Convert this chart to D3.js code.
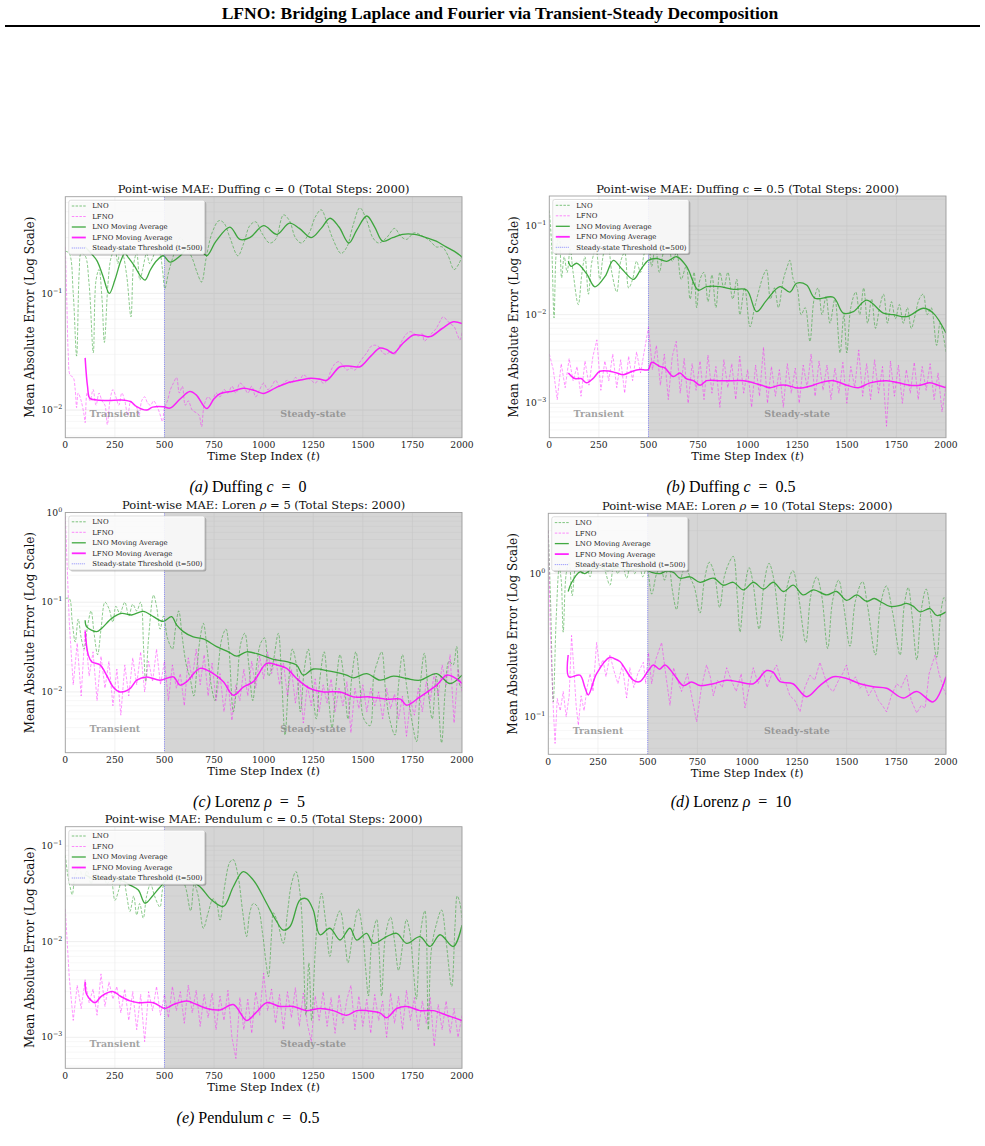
<!DOCTYPE html>
<html><head><meta charset="utf-8">
<script src="https://cdn.jsdelivr.net/npm/d3@7"></script>
<style>body{margin:0;background:#fff}svg{display:block}</style>
</head><body>
<svg id="fig" width="985" height="1146"></svg>
<script>
// ---------------- DATA ----------------
const STEP = 20; // sampling interval of the uniformly sampled noisy series
const xTicks = [0,250,500,750,1000,1250,1500,1750,2000];
const legendLabels = ["LNO","LFNO","LNO Moving Average","LFNO Moving Average","Steady-state Threshold (t=500)"];

// (a) Duffing c = 0
const duffing0_LNO = [[0,0.23],[20,0.22],[40,0.10],[57,0.029],[70,0.15],[80,0.22],[100,0.21],[120,0.12],[141,0.031],[155,0.13],[170,0.16],[185,0.09],[197,0.038],[215,0.12],[230,0.20],[250,0.24],[265,0.18],[276,0.25],[290,0.22],[310,0.14],[331,0.063],[345,0.18],[360,0.22],[376,0.13],[390,0.16],[410,0.22],[425,0.18],[440,0.20],[460,0.24],[477,0.22],[490,0.16],[502,0.11],[520,0.15],[545,0.21],[580,0.30],[610,0.25],[640,0.20],[665,0.15],[687,0.125],[710,0.20],[740,0.33],[775,0.42],[800,0.40],[830,0.30],[870,0.21],[900,0.27],[930,0.38],[960,0.41],[990,0.33],[1030,0.27],[1060,0.29],[1100,0.47],[1130,0.42],[1160,0.30],[1190,0.27],[1230,0.33],[1260,0.45],[1290,0.52],[1320,0.40],[1350,0.29],[1390,0.22],[1420,0.25],[1450,0.38],[1485,0.54],[1520,0.42],[1550,0.30],[1580,0.27],[1620,0.30],[1660,0.36],[1690,0.31],[1720,0.29],[1760,0.33],[1800,0.31],[1840,0.28],[1870,0.25],[1900,0.25],[1930,0.21],[1960,0.16],[1985,0.18],[2000,0.21]];
const duffing0_LNO_MA = [[100,0.25],[130,0.22],[160,0.19],[190,0.14],[222,0.10],[250,0.13],[280,0.19],[300,0.22],[320,0.20],[350,0.17],[380,0.14],[402,0.13],[430,0.16],[460,0.19],[494,0.21],[528,0.185],[580,0.21],[630,0.26],[680,0.24],[713,0.21],[760,0.28],[830,0.37],[880,0.29],[930,0.30],[1000,0.38],[1066,0.32],[1130,0.40],[1180,0.36],[1240,0.30],[1290,0.36],[1335,0.44],[1380,0.37],[1430,0.27],[1470,0.35],[1520,0.46],[1560,0.37],[1600,0.28],[1650,0.30],[1700,0.32],[1760,0.32],[1820,0.30],[1870,0.28],[1920,0.25],[1960,0.23],[2000,0.205]];
const duffing0_LFNO = [[0,0.25],[8,0.08],[15,0.03],[24,0.02],[40,0.019],[50,0.015],[57,0.0105],[65,0.014],[80,0.012],[95,0.009],[100,0.0078],[110,0.014],[125,0.012],[140,0.015],[155,0.011],[170,0.014],[185,0.012],[200,0.011],[212,0.0075],[225,0.012],[240,0.015],[255,0.013],[270,0.011],[285,0.014],[300,0.012],[315,0.009],[330,0.012],[345,0.011],[360,0.0105],[372,0.009],[385,0.012],[400,0.013],[415,0.0115],[430,0.011],[445,0.012],[460,0.011],[475,0.0095],[490,0.008],[500,0.0105],[515,0.012],[530,0.015],[545,0.017],[561,0.019],[575,0.014],[590,0.016],[605,0.011],[620,0.012],[640,0.010],[660,0.0095],[675,0.009],[687,0.0072],[700,0.011],[720,0.013],[740,0.012],[760,0.014],[780,0.013],[800,0.015],[820,0.014],[840,0.016],[860,0.014],[880,0.017],[900,0.016],[920,0.014],[940,0.016],[960,0.013],[980,0.015],[1000,0.017],[1020,0.015],[1040,0.016],[1060,0.018],[1080,0.016],[1100,0.017],[1120,0.018],[1140,0.017],[1160,0.019],[1180,0.018],[1200,0.020],[1220,0.019],[1240,0.018],[1260,0.017],[1280,0.0185],[1300,0.017],[1320,0.018],[1340,0.022],[1360,0.025],[1380,0.026],[1400,0.024],[1420,0.022],[1440,0.023],[1460,0.022],[1480,0.025],[1500,0.028],[1520,0.031],[1540,0.035],[1560,0.036],[1580,0.035],[1600,0.031],[1620,0.030],[1640,0.032],[1660,0.030],[1680,0.034],[1700,0.040],[1720,0.045],[1740,0.047],[1760,0.045],[1780,0.043],[1800,0.045],[1810,0.039],[1830,0.042],[1850,0.046],[1870,0.050],[1890,0.058],[1905,0.063],[1920,0.060],[1940,0.055],[1960,0.052],[1975,0.045],[1990,0.040],[2000,0.046]];
const duffing0_LFNO_MA = [[100,0.028],[112,0.016],[124,0.0126],[160,0.0122],[220,0.0121],[280,0.0122],[330,0.0118],[360,0.0107],[410,0.0100],[440,0.0106],[494,0.0107],[528,0.0104],[580,0.0125],[628,0.0144],[660,0.0135],[713,0.0103],[750,0.0125],[780,0.0138],[847,0.0146],[897,0.0154],[950,0.0148],[998,0.0139],[1060,0.0155],[1116,0.017],[1180,0.018],[1234,0.0187],[1280,0.0185],[1318,0.018],[1385,0.0235],[1440,0.0238],[1486,0.0235],[1540,0.029],[1586,0.034],[1620,0.033],[1654,0.0306],[1700,0.037],[1755,0.044],[1800,0.0435],[1839,0.0426],[1900,0.050],[1956,0.057],[2000,0.055]];

// (b) Duffing c = 0.5
const duffing05_LNO = [[0,0.15],[12,0.06],[24,0.0092],[35,0.05],[50,0.08],[62,0.026],[75,0.045],[90,0.03],[105,0.055],[120,0.03],[146,0.013],[165,0.03],[180,0.045],[197,0.017],[215,0.04],[235,0.055],[255,0.025],[275,0.05],[295,0.06],[315,0.03],[340,0.018],[360,0.04],[380,0.05],[400,0.02],[420,0.025],[440,0.04],[460,0.03],[480,0.05],[500,0.06],[516,0.035],[535,0.06],[555,0.03],[575,0.05],[600,0.065],[620,0.04],[642,0.05],[665,0.025],[690,0.035],[710,0.015],[730,0.03],[743,0.012],[760,0.025],[780,0.03],[800,0.014],[820,0.028],[840,0.012],[860,0.03],[880,0.02],[900,0.03],[925,0.015],[945,0.025],[961,0.01],[985,0.02],[1012,0.0073],[1035,0.012],[1060,0.02],[1080,0.028],[1095,0.032],[1115,0.015],[1135,0.02],[1155,0.012],[1180,0.025],[1200,0.035],[1213,0.041],[1230,0.025],[1250,0.02],[1270,0.01],[1290,0.012],[1314,0.005],[1335,0.015],[1355,0.02],[1375,0.01],[1395,0.016],[1415,0.008],[1440,0.015],[1466,0.0037],[1485,0.01],[1500,0.0037],[1520,0.012],[1545,0.018],[1565,0.01],[1585,0.02],[1605,0.008],[1625,0.015],[1645,0.007],[1665,0.012],[1685,0.017],[1705,0.008],[1725,0.014],[1745,0.009],[1765,0.013],[1785,0.008],[1805,0.012],[1825,0.007],[1845,0.01],[1865,0.015],[1885,0.017],[1905,0.01],[1925,0.012],[1953,0.0045],[1970,0.008],[1985,0.006],[2000,0.0038]];
const duffing05_LNO_MA = [[96,0.040],[110,0.035],[138,0.038],[188,0.029],[230,0.0206],[281,0.027],[323,0.041],[365,0.033],[424,0.025],[460,0.032],[499,0.041],[541,0.043],[592,0.040],[642,0.045],[692,0.035],[751,0.0189],[793,0.0207],[861,0.0207],[928,0.0193],[995,0.019],[1045,0.0108],[1096,0.0146],[1163,0.0207],[1213,0.018],[1247,0.0226],[1297,0.0216],[1340,0.0153],[1432,0.0157],[1482,0.0104],[1533,0.0108],[1600,0.0146],[1684,0.0104],[1734,0.0100],[1802,0.0095],[1886,0.0118],[1936,0.0104],[2000,0.0062]];
const duffing05_LFNO = [0.0036,0.0024,0.0011,0.0028,0.0015,0.0032,0.0018,0.0026,0.0012,0.0030,0.0016,0.0034,0.0052,0.0014,0.0030,0.0018,0.0036,0.0015,0.0031,0.0013,0.0034,0.0018,0.0038,0.0022,0.0040,0.0072,0.0024,0.0045,0.0016,0.0036,0.0011,0.0034,0.0050,0.0013,0.0032,0.0010,0.0028,0.0014,0.0030,0.0011,0.0035,0.0013,0.0026,0.0009,0.0031,0.0015,0.0028,0.0011,0.0034,0.0013,0.0024,0.0009,0.0027,0.0012,0.0043,0.0010,0.0026,0.0012,0.0024,0.0009,0.0028,0.0013,0.0025,0.0010,0.0027,0.0015,0.0036,0.0012,0.0030,0.0014,0.0027,0.0011,0.0025,0.0013,0.0029,0.0010,0.0026,0.0015,0.0040,0.0012,0.0028,0.0011,0.0031,0.0013,0.0026,0.00055,0.0030,0.0012,0.0027,0.0010,0.0024,0.0013,0.0029,0.0011,0.0026,0.0014,0.0028,0.0011,0.0022,0.0008,0.0016];
const duffing05_LFNO_MA = [[96,0.0022],[129,0.0019],[160,0.0019],[188,0.0017],[220,0.0019],[255,0.0023],[306,0.0023],[340,0.0022],[373,0.0021],[420,0.0023],[457,0.0024],[499,0.0024],[516,0.0029],[558,0.0026],[583,0.0025],[625,0.0020],[659,0.0022],[690,0.0019],[726,0.0018],[760,0.0016],[793,0.0018],[860,0.0018],[928,0.0018],[980,0.0018],[1029,0.0017],[1070,0.0016],[1113,0.0015],[1160,0.0016],[1197,0.0016],[1240,0.0015],[1281,0.0015],[1330,0.0016],[1365,0.0017],[1432,0.0018],[1500,0.0016],[1558,0.0015],[1617,0.0017],[1701,0.0018],[1760,0.0017],[1818,0.0016],[1870,0.0016],[1919,0.0017],[1960,0.0016],[2000,0.0015]];

// (c) Lorenz rho = 5
const lorenz5_LNO = [[0,0.11],[20,0.11],[35,0.06],[50,0.036],[65,0.065],[80,0.04],[95,0.03],[110,0.05],[130,0.08],[145,0.045],[163,0.026],[180,0.05],[200,0.1],[220,0.085],[240,0.06],[255,0.09],[275,0.075],[300,0.1],[320,0.07],[340,0.095],[360,0.08],[380,0.1],[395,0.03],[405,0.013],[420,0.04],[445,0.12],[460,0.09],[478,0.05],[495,0.07],[515,0.04],[540,0.03],[555,0.05],[572,0.08],[590,0.04],[610,0.02],[630,0.014],[648,0.009],[665,0.02],[680,0.04],[696,0.058],[715,0.03],[735,0.012],[755,0.008],[772,0.02],[790,0.04],[810,0.05],[825,0.03],[847,0.006],[865,0.012],[885,0.035],[905,0.045],[925,0.02],[945,0.008],[965,0.02],[985,0.035],[1005,0.04],[1025,0.015],[1045,0.02],[1074,0.045],[1090,0.015],[1108,0.0033],[1125,0.012],[1145,0.03],[1165,0.02],[1185,0.006],[1205,0.018],[1225,0.03],[1245,0.012],[1265,0.005],[1285,0.015],[1305,0.028],[1325,0.01],[1345,0.004],[1365,0.012],[1385,0.026],[1405,0.014],[1425,0.005],[1445,0.015],[1465,0.028],[1485,0.012],[1505,0.005],[1536,0.0042],[1555,0.015],[1575,0.022],[1595,0.028],[1615,0.01],[1635,0.005],[1662,0.0033],[1680,0.012],[1700,0.026],[1720,0.012],[1740,0.006],[1771,0.0028],[1790,0.012],[1810,0.027],[1830,0.01],[1850,0.005],[1870,0.015],[1897,0.0027],[1915,0.01],[1935,0.022],[1955,0.02],[1973,0.032],[1988,0.012],[2000,0.011]];
const lorenz5_LNO_MA = [[100,0.063],[108,0.053],[158,0.047],[183,0.051],[234,0.066],[284,0.075],[334,0.072],[393,0.079],[444,0.069],[494,0.061],[536,0.069],[561,0.056],[595,0.047],[645,0.041],[696,0.039],[763,0.032],[822,0.028],[864,0.025],[914,0.028],[981,0.026],[1049,0.023],[1116,0.0217],[1166,0.020],[1200,0.0154],[1250,0.018],[1334,0.017],[1418,0.0154],[1452,0.0143],[1519,0.016],[1587,0.0135],[1654,0.015],[1721,0.0141],[1788,0.0135],[1872,0.016],[1939,0.0124],[2000,0.0154]];
const lorenz5_LFNO = [0.9,0.06,0.012,0.035,0.009,0.05,0.015,0.028,0.008,0.025,0.011,0.022,0.007,0.018,0.0055,0.02,0.009,0.024,0.012,0.028,0.010,0.022,0.013,0.03,0.012,0.022,0.008,0.02,0.011,0.016,0.007,0.024,0.014,0.03,0.012,0.026,0.009,0.021,0.008,0.016,0.006,0.013,0.0048,0.012,0.008,0.018,0.009,0.022,0.011,0.025,0.014,0.028,0.016,0.024,0.012,0.021,0.009,0.018,0.0075,0.015,0.0045,0.012,0.007,0.014,0.006,0.012,0.0075,0.014,0.006,0.011,0.007,0.013,0.0035,0.011,0.0065,0.012,0.006,0.011,0.007,0.010,0.005,0.011,0.0065,0.0095,0.005,0.009,0.0032,0.008,0.0055,0.011,0.006,0.013,0.008,0.016,0.009,0.02,0.012,0.026,0.0045,0.018,0.01];
const lorenz5_LFNO_MA = [[100,0.047],[116,0.0257],[133,0.0217],[175,0.020],[208,0.0154],[242,0.0113],[276,0.010],[326,0.0109],[360,0.0135],[410,0.0147],[477,0.0135],[545,0.0147],[578,0.0119],[612,0.013],[679,0.0183],[746,0.016],[797,0.013],[847,0.0092],[897,0.0113],[948,0.013],[1015,0.0208],[1066,0.020],[1116,0.0183],[1166,0.0141],[1234,0.0109],[1301,0.010],[1385,0.010],[1452,0.0088],[1536,0.0088],[1620,0.0083],[1690,0.0083],[1721,0.0071],[1788,0.0088],[1872,0.0119],[1923,0.0154],[1956,0.0147],[2000,0.0124]];

// (d) Lorenz rho = 10
const lorenz10_LNO = [[0,2.0],[12,0.6],[25,0.127],[40,0.5],[55,1.1],[65,0.9],[75,0.39],[90,1.0],[105,1.2],[120,0.7],[135,1.1],[150,1.3],[170,1.0],[190,1.2],[210,0.95],[230,1.25],[250,1.05],[270,1.3],[290,1.0],[310,0.83],[330,1.15],[350,1.0],[370,1.2],[394,0.93],[415,1.2],[435,1.0],[455,1.25],[475,0.95],[495,1.1],[520,0.72],[545,1.0],[565,1.1],[585,0.9],[605,1.15],[625,0.75],[645,0.56],[665,0.9],[690,1.12],[712,0.95],[735,0.8],[763,0.53],[785,0.9],[810,1.2],[835,1.0],[862,0.58],[885,0.95],[910,1.2],[930,1.32],[950,0.7],[964,0.39],[985,0.75],[1010,1.1],[1030,0.85],[1060,0.41],[1085,0.85],[1110,1.18],[1135,0.9],[1173,0.34],[1200,0.8],[1230,1.05],[1255,0.75],[1295,0.33],[1320,0.7],[1350,0.95],[1375,0.7],[1405,0.30],[1430,0.65],[1460,0.9],[1485,0.6],[1517,0.31],[1545,0.65],[1580,0.88],[1605,0.6],[1645,0.27],[1670,0.6],[1700,0.82],[1730,0.55],[1769,0.27],[1790,0.6],[1810,0.8],[1830,0.5],[1853,0.25],[1875,0.55],[1900,0.78],[1925,0.5],[1953,0.26],[1975,0.55],[1990,0.68],[2000,0.64]];
const lorenz10_LNO_MA = [[100,0.75],[116,0.86],[159,1.03],[184,1.0],[220,1.08],[260,1.1],[300,1.05],[350,1.1],[400,1.05],[450,1.08],[500,1.05],[520,1.02],[562,1.0],[595,1.04],[629,1.02],[662,0.93],[713,0.95],[763,0.87],[830,0.93],[880,0.83],[930,0.87],[981,0.77],[1031,0.87],[1082,0.78],[1132,0.87],[1182,0.75],[1232,0.83],[1282,0.71],[1333,0.77],[1400,0.71],[1450,0.75],[1500,0.65],[1551,0.71],[1601,0.64],[1640,0.67],[1668,0.64],[1718,0.59],[1769,0.60],[1800,0.62],[1836,0.59],[1869,0.54],[1920,0.57],[1953,0.51],[2000,0.54]];
const lorenz10_LFNO = [[0,2.0],[10,0.4],[25,0.115],[34,0.065],[45,0.134],[60,0.11],[75,0.15],[90,0.1],[105,0.14],[117,0.37],[130,0.2],[140,0.12],[151,0.087],[165,0.14],[180,0.11],[195,0.16],[210,0.2],[225,0.15],[243,0.33],[258,0.22],[275,0.25],[290,0.19],[310,0.27],[330,0.21],[350,0.17],[372,0.23],[394,0.135],[410,0.22],[430,0.16],[450,0.2],[478,0.24],[490,0.17],[503,0.28],[520,0.17],[540,0.25],[570,0.33],[590,0.2],[612,0.12],[630,0.22],[650,0.18],[670,0.15],[700,0.2],[725,0.13],[746,0.092],[770,0.16],[796,0.23],[815,0.19],[830,0.14],[850,0.18],[875,0.16],[897,0.22],[920,0.18],[945,0.15],[970,0.2],[989,0.115],[1010,0.16],[1031,0.22],[1055,0.17],[1080,0.21],[1100,0.16],[1125,0.2],[1148,0.23],[1170,0.18],[1195,0.17],[1215,0.14],[1240,0.13],[1266,0.108],[1290,0.16],[1316,0.195],[1340,0.18],[1366,0.24],[1390,0.19],[1410,0.16],[1433,0.15],[1460,0.18],[1480,0.2],[1500,0.23],[1520,0.17],[1545,0.19],[1567,0.158],[1590,0.17],[1610,0.14],[1635,0.16],[1660,0.13],[1680,0.12],[1701,0.108],[1725,0.14],[1752,0.17],[1775,0.16],[1802,0.195],[1825,0.13],[1853,0.106],[1875,0.12],[1895,0.115],[1915,0.2],[1945,0.27],[1965,0.2],[1987,0.158],[2000,0.142]];
const lorenz10_LFNO_MA = [[100,0.27],[104,0.19],[159,0.195],[184,0.16],[201,0.142],[243,0.20],[310,0.26],[330,0.255],[360,0.243],[427,0.18],[461,0.176],[503,0.21],[528,0.23],[560,0.215],[587,0.23],[629,0.20],[679,0.165],[720,0.175],[763,0.165],[830,0.17],[897,0.18],[960,0.175],[1031,0.17],[1098,0.21],[1130,0.205],[1165,0.176],[1230,0.17],[1299,0.138],[1366,0.165],[1433,0.19],[1500,0.185],[1567,0.17],[1634,0.162],[1701,0.158],[1785,0.135],[1853,0.15],[1936,0.127],[2000,0.19]];

// (e) Pendulum c = 0.5
const pendulum_LNO = [[0,0.08],[12,0.05],[24,0.0375],[35,0.031],[50,0.05],[70,0.06],[90,0.045],[110,0.055],[130,0.04],[150,0.06],[170,0.045],[190,0.05],[210,0.04],[230,0.045],[250,0.027],[270,0.035],[290,0.05],[310,0.03],[326,0.0207],[345,0.03],[360,0.019],[375,0.025],[393,0.0176],[410,0.03],[430,0.04],[450,0.03],[477,0.023],[490,0.035],[510,0.05],[540,0.06],[570,0.045],[600,0.04],[632,0.021],[650,0.04],[670,0.03],[696,0.0138],[720,0.02],[745,0.028],[763,0.025],[780,0.0168],[805,0.04],[830,0.068],[847,0.072],[870,0.05],[895,0.02],[914,0.0113],[930,0.02],[948,0.025],[970,0.023],[995,0.012],[1012,0.006],[1024,0.0043],[1040,0.012],[1049,0.02],[1070,0.016],[1099,0.0096],[1120,0.02],[1140,0.04],[1163,0.054],[1185,0.03],[1200,0.008],[1213,0.0017],[1228,0.006],[1242,0.0015],[1260,0.008],[1275,0.02],[1292,0.032],[1310,0.018],[1334,0.007],[1355,0.014],[1385,0.021],[1410,0.01],[1425,0.006],[1450,0.012],[1477,0.022],[1500,0.012],[1515,0.005],[1528,0.0027],[1545,0.01],[1570,0.017],[1582,0.008],[1595,0.0027],[1615,0.012],[1640,0.018],[1660,0.01],[1680,0.005],[1700,0.009],[1720,0.017],[1738,0.0122],[1755,0.005],[1770,0.0025],[1790,0.012],[1813,0.021],[1830,0.0012],[1845,0.008],[1870,0.015],[1897,0.0214],[1920,0.01],[1948,0.0034],[1965,0.015],[1976,0.03],[1990,0.025],[2000,0.0168]];
const pendulum_LNO_MA = [[100,0.05],[150,0.045],[200,0.048],[250,0.045],[300,0.042],[326,0.039],[368,0.0347],[402,0.0252],[440,0.03],[477,0.037],[520,0.045],[580,0.046],[640,0.042],[679,0.0375],[738,0.0272],[797,0.0233],[847,0.0375],[897,0.054],[948,0.044],[1015,0.0252],[1060,0.017],[1099,0.0132],[1133,0.0144],[1183,0.0272],[1217,0.028],[1250,0.0214],[1284,0.0118],[1334,0.0138],[1385,0.0104],[1435,0.0138],[1469,0.0104],[1519,0.0122],[1553,0.0096],[1620,0.0113],[1671,0.0122],[1721,0.0096],[1788,0.0113],[1839,0.0089],[1889,0.0118],[1956,0.0089],[2000,0.0149]];
const pendulum_LFNO = [0.022,0.0042,0.0015,0.0035,0.0020,0.0040,0.0023,0.0032,0.0017,0.0046,0.0021,0.0038,0.0025,0.0034,0.0018,0.0032,0.0015,0.0030,0.0012,0.0028,0.0009,0.0030,0.0019,0.0034,0.0017,0.0028,0.0016,0.0034,0.0019,0.0030,0.0014,0.0035,0.0018,0.0031,0.0013,0.0028,0.0016,0.0029,0.0012,0.0027,0.0015,0.0031,0.0010,0.0006,0.0026,0.0012,0.0025,0.0011,0.0030,0.0017,0.0047,0.0019,0.0032,0.0014,0.0028,0.0012,0.0030,0.0016,0.0033,0.0013,0.0029,0.0014,0.0009,0.0027,0.0015,0.0030,0.0013,0.0026,0.0011,0.0028,0.0014,0.0025,0.0035,0.0012,0.0027,0.0013,0.0025,0.0011,0.0028,0.0015,0.0024,0.0010,0.0029,0.0014,0.0027,0.0012,0.0031,0.0015,0.0026,0.0012,0.0024,0.0014,0.0026,0.0008,0.0022,0.0012,0.0024,0.0011,0.0020,0.0010,0.0017];
const pendulum_LFNO_MA = [[100,0.0038],[108,0.0028],[150,0.0023],[183,0.0027],[242,0.0030],[276,0.0027],[326,0.0024],[368,0.0023],[444,0.0023],[502,0.0020],[545,0.0022],[612,0.0024],[662,0.0022],[713,0.0020],[780,0.00193],[847,0.0022],[914,0.0015],[960,0.0018],[1015,0.0023],[1082,0.0021],[1150,0.0021],[1217,0.0019],[1284,0.0020],[1351,0.0019],[1418,0.0017],[1469,0.0019],[1519,0.0019],[1586,0.0018],[1620,0.0016],[1671,0.0020],[1721,0.0021],[1788,0.0019],[1855,0.0019],[1923,0.0017],[2000,0.0015]];

// ---------------- LAYOUT ----------------
const uniform = arr => arr.map((v,i)=>[i*STEP, v]);
const EQ = "\u2002=\u2002";
const panels = [
  {id:"a", lno:duffing0_LNO, lfno:duffing0_LFNO, lnoMA:duffing0_LNO_MA, lfnoMA:duffing0_LFNO_MA,
   yDomain:[0.0058,0.673], x0:65.3, x1:462, y0:196.7, y1:437.7,
   title:[["Point-wise MAE: Duffing c = 0 (Total Steps: 2000)",false]],
   caption:[["(a)",true],[" Duffing ",false],["c",true],[EQ+"0",false]], capX:248, capY:492},
  {id:"b", lno:duffing05_LNO, lfno:uniform(duffing05_LFNO), lnoMA:duffing05_LNO_MA, lfnoMA:duffing05_LFNO_MA,
   yDomain:[0.000409,0.218], x0:549.3, x1:946, y0:196, y1:437.7,
   title:[["Point-wise MAE: Duffing c = 0.5 (Total Steps: 2000)",false]],
   caption:[["(b)",true],[" Duffing ",false],["c",true],[EQ+"0.5",false]], capX:731, capY:492},
  {id:"c", lno:lorenz5_LNO, lfno:uniform(lorenz5_LFNO), lnoMA:lorenz5_LNO_MA, lfnoMA:lorenz5_LFNO_MA,
   yDomain:[0.0021,1.0], x0:65.3, x1:462, y0:512.5, y1:752.7,
   title:[["Point-wise MAE: Loren ",false],["ρ",true],[" = 5 (Total Steps: 2000)",false]],
   caption:[["(c)",true],[" Lorenz ",false],["ρ",true],[EQ+"5",false]], capX:249, capY:807},
  {id:"d", lno:lorenz10_LNO, lfno:lorenz10_LFNO, lnoMA:lorenz10_LNO_MA, lfnoMA:lorenz10_LFNO_MA,
   yDomain:[0.0546,2.64], x0:548.3, x1:946, y0:513.3, y1:754.3,
   title:[["Point-wise MAE: Loren ",false],["ρ",true],[" = 10 (Total Steps: 2000)",false]],
   caption:[["(d)",true],[" Lorenz ",false],["ρ",true],[EQ+"10",false]], capX:731, capY:807},
  {id:"e", lno:pendulum_LNO, lfno:uniform(pendulum_LFNO), lnoMA:pendulum_LNO_MA, lfnoMA:pendulum_LFNO_MA,
   yDomain:[0.000474,0.159], x0:65.3, x1:462, y0:826.7, y1:1068.3,
   title:[["Point-wise MAE: Pendulum c = 0.5 (Total Steps: 2000)",false]],
   caption:[["(e)",true],[" Pendulum ",false],["c",true],[EQ+"0.5",false]], capX:248, capY:1123}
];

const SERIF = "'DejaVu Serif', serif";
const TIMES = "'Liberation Serif', 'Times New Roman', serif";
const GREEN = "#2ca02c", MAG = "#ff00ff", THR = "#5a5aff";

const svg = d3.select("#fig");
const defs = svg.append("defs");

// header
svg.append("text").attr("x",500).attr("y",19).attr("text-anchor","middle")
  .attr("font-family",TIMES).attr("font-weight","bold").attr("font-size",17.5)
  .text("LFNO: Bridging Laplace and Fourier via Transient-Steady Decomposition");
svg.append("line").attr("x1",5).attr("x2",980).attr("y1",26).attr("y2",26)
  .attr("stroke","#000").attr("stroke-width",1.8);

function segText(g, segs, attrs){
  const t = g.append("text");
  Object.entries(attrs).forEach(([k,v])=>t.attr(k,v));
  segs.forEach(([s,it])=>{ const sp=t.append("tspan").text(s); if(it) sp.attr("font-style","italic"); });
  return t;
}

panels.forEach(p=>{
  const g = svg.append("g");
  const x = d3.scaleLinear().domain([0,2000]).range([p.x0,p.x1]);
  const y = d3.scaleLog().domain(p.yDomain).range([p.y1,p.y0]);
  const W = p.x1-p.x0, H = p.y1-p.y0;
  defs.append("clipPath").attr("id","clip"+p.id).append("rect")
    .attr("x",p.x0).attr("y",p.y0).attr("width",W).attr("height",H);

  // grid (major + minor log)
  const [lo,hi] = p.yDomain;
  const minor = [];
  for(let e=Math.floor(Math.log10(lo)); e<=Math.ceil(Math.log10(hi)); e++){
    for(let m=1;m<=9;m++){ const v=m*Math.pow(10,e); if(v>=lo && v<=hi) minor.push({v, major:m===1}); }
  }
  const grid = g.append("g");
  grid.selectAll("line.h").data(minor).join("line")
    .attr("x1",p.x0).attr("x2",p.x1).attr("y1",d=>y(d.v)).attr("y2",d=>y(d.v))
    .attr("stroke",d=>d.major?"#e6e6e6":"#f3f3f3").attr("stroke-width",0.7);
  grid.selectAll("line.v").data(xTicks).join("line")
    .attr("x1",d=>x(d)).attr("x2",d=>x(d)).attr("y1",p.y0).attr("y2",p.y1)
    .attr("stroke","#ededed").attr("stroke-width",0.7);

  // steady-state shading
  g.append("rect").attr("x",x(500)).attr("y",p.y0).attr("width",x(2000)-x(500)).attr("height",H)
    .attr("fill","#808080").attr("fill-opacity",0.33);

  const plot = g.append("g").attr("clip-path",`url(#clip${p.id})`);
  const smooth = d3.line().x(d=>x(d[0])).y(d=>y(d[1])).curve(d3.curveCatmullRom.alpha(0.5));
  const jag = d3.line().x(d=>x(d[0])).y(d=>y(d[1]));

  plot.append("path").attr("d",smooth(p.lno)).attr("fill","none").attr("stroke",GREEN)
    .attr("stroke-opacity",0.6).attr("stroke-width",0.9).attr("stroke-dasharray","3,1.6");
  plot.append("path").attr("d",(p.id==="a"?smooth:jag)(p.lfno)).attr("fill","none").attr("stroke",MAG)
    .attr("stroke-opacity",0.45).attr("stroke-width",0.9).attr("stroke-dasharray","3,1.6");
  plot.append("path").attr("d",smooth(p.lnoMA)).attr("fill","none").attr("stroke",GREEN)
    .attr("stroke-opacity",0.9).attr("stroke-width",1.3);
  plot.append("path").attr("d",smooth(p.lfnoMA)).attr("fill","none").attr("stroke",MAG)
    .attr("stroke-opacity",0.85).attr("stroke-width",1.5);

  // threshold
  g.append("line").attr("x1",x(500)).attr("x2",x(500)).attr("y1",p.y0).attr("y2",p.y1)
    .attr("stroke",THR).attr("stroke-opacity",0.7).attr("stroke-width",1).attr("stroke-dasharray","1,1.2");

  // region labels
  const ly = p.y1 - 0.1*H;
  [["Transient",250],["Steady-state",1250]].forEach(([s,t])=>{
    g.append("text").attr("x",x(t)).attr("y",ly).attr("dy","0.35em").attr("text-anchor","middle")
      .attr("font-family",SERIF).attr("font-weight","bold").attr("font-size",9.5)
      .attr("fill","#808080").attr("fill-opacity",0.72).text(s);
  });

  // frame
  g.append("rect").attr("x",p.x0).attr("y",p.y0).attr("width",W).attr("height",H)
    .attr("fill","none").attr("stroke","#a0a0a0").attr("stroke-width",0.9);

  // x tick labels
  g.selectAll("text.xt").data(xTicks).join("text")
    .attr("x",d=>x(d)).attr("y",p.y1+10.5).attr("text-anchor","middle")
    .attr("font-family",SERIF).attr("font-size",9.2).attr("fill","#222").text(d=>d);
  // y tick labels
  minor.filter(d=>d.major).forEach(d=>{
    const e = Math.round(Math.log10(d.v));
    const t = g.append("text").attr("x",p.x0-3).attr("y",y(d.v)+3.2).attr("text-anchor","end")
      .attr("font-family",SERIF).attr("font-size",9.2).attr("fill","#222");
    t.append("tspan").text("10");
    t.append("tspan").attr("dy",-4).attr("font-size",6.4).text(e===0?"0":"\u2212"+(-e));
  });

  // axis labels
  const xl = g.append("text").attr("x",(p.x0+p.x1)/2).attr("y",p.y1+22.5).attr("text-anchor","middle")
    .attr("font-family",SERIF).attr("font-size",11.5).attr("fill","#111");
  xl.append("tspan").text("Time Step Index (");
  xl.append("tspan").attr("font-style","italic").text("t");
  xl.append("tspan").text(")");
  g.append("text").attr("transform",`translate(${p.x0-31},${(p.y0+p.y1)/2}) rotate(-90)`)
    .attr("text-anchor","middle").attr("font-family",SERIF).attr("font-size",12).attr("fill","#111")
    .text("Mean Absolute Error (Log Scale)");

  // title
  segText(g, p.title, {x:(p.x0+p.x1)/2, y:p.y0-3.5, "text-anchor":"middle",
    "font-family":SERIF, "font-size":11.5, fill:"#111"});

  // legend
  const lx = p.x0+3.5, lyy = p.y0+3.5, lw=136, lh=54;
  const lg = g.append("g");
  lg.append("rect").attr("x",lx+1.5).attr("y",lyy+1.5).attr("width",lw).attr("height",lh).attr("rx",2)
    .attr("fill","#000").attr("fill-opacity",0.22);
  lg.append("rect").attr("x",lx).attr("y",lyy).attr("width",lw).attr("height",lh).attr("rx",2)
    .attr("fill","#fff").attr("fill-opacity",0.9).attr("stroke","#cfcfcf").attr("stroke-width",0.7);
  const styles = [
    {c:GREEN,o:0.6,w:1,da:"2.5,1.3"},
    {c:MAG,o:0.45,w:1,da:"2.5,1.3"},
    {c:GREEN,o:0.9,w:1.3,da:null},
    {c:MAG,o:0.85,w:1.8,da:null},
    {c:THR,o:0.7,w:1,da:"1,1"}];
  legendLabels.forEach((s,i)=>{
    const yy = lyy+5.8+i*10.5;
    const ln = lg.append("line").attr("x1",lx+3).attr("x2",lx+17).attr("y1",yy).attr("y2",yy)
      .attr("stroke",styles[i].c).attr("stroke-opacity",styles[i].o).attr("stroke-width",styles[i].w);
    if(styles[i].da) ln.attr("stroke-dasharray",styles[i].da);
    lg.append("text").attr("x",lx+23.5).attr("y",yy).attr("dy","0.35em")
      .attr("font-family",SERIF).attr("font-size",6.9).attr("fill","#222").text(s);
  });

  // caption
  segText(svg, p.caption, {x:p.capX, y:p.capY, "text-anchor":"middle",
    "font-family":TIMES, "font-size":16, fill:"#000"});
});
</script>
</body></html>
